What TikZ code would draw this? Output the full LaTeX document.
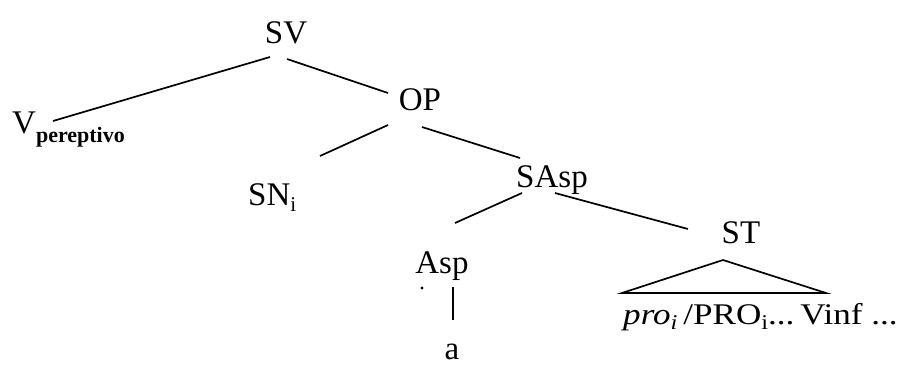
\documentclass[tikz,border=0pt]{standalone}
\usepackage{fontspec}
\setmainfont{Liberation Serif}
\usetikzlibrary{calc}
\newcommand{\lsub}[2][6pt]{\raisebox{-#1}{\fontsize{21}{21}\selectfont #2}}
\begin{document}
\begin{tikzpicture}[x=1pt,y=-1pt,
  lab/.style={inner sep=0pt,font=\fontsize{33}{33}\selectfont},
  small/.style={inner sep=0pt,font=\fontsize{30}{30}\selectfont},
  edge/.style={line width=1.7pt}]
\useasboundingbox (0,0) rectangle (906,365);
\node[lab,anchor=base] (SV) at (286,43) {SV};
\node[lab,anchor=base west] (V) at (12,133) {V\raisebox{-9pt}{\fontsize{22}{22}\selectfont\bfseries pereptivo}};
\node[lab,anchor=base] (OP) at (420,110) {OP};
\node[lab,anchor=base west] (SN) at (248,205) {SN\lsub{i}};
\node[lab,anchor=base] (SAsp) at (552,187) {SAsp};
\node[lab,anchor=base] (Asp) at (442,273) {Asp};
\node[lab,anchor=base] (ST) at (741,243) {ST};
\node[lab,anchor=base] (a) at (452,359) {a};
\node[small,anchor=base west] (pro) at (623,324) {\scalebox{1.17}[1]{\textit{pro}\lsub[5pt]{\textit{i}}\,/PRO\lsub[5pt]{i}...\,Vinf ...}};
\draw[edge] ($(SV.base)+(-16,14)$) -- ($(V.base west)+(41,-12)$);
\draw[edge] ($(SV.base)+(1,16)$) -- ($(OP.base)+(-32,-17)$);
\draw[edge] ($(OP.base)+(-32,15)$) -- ($(SN.base west)+(72,-49)$);
\draw[edge] ($(OP.base)+(2,17)$) -- ($(SAsp.base)+(-32,-29)$);
\draw[edge] ($(SAsp.base)+(-30,6)$) -- ($(Asp.base)+(13,-50)$);
\draw[edge] ($(SAsp.base)+(3,6)$) -- ($(ST.base)+(-53,-14)$);
\draw[edge] ($(Asp.base)+(11,14)$) -- ($(Asp.base)+(11,47)$);
\fill ($(Asp.base)+(-20,15)$) circle (1.6);
\draw[edge,line join=miter] ($(ST.base)+(-18,17)$) -- ($(ST.base)+(85,50)$) -- ($(ST.base)+(-119,50)$) -- cycle;
\draw[line width=2.8pt] ($(ST.base)+(-119,50)$) -- ($(ST.base)+(85,50)$);
\end{tikzpicture}
\end{document}
